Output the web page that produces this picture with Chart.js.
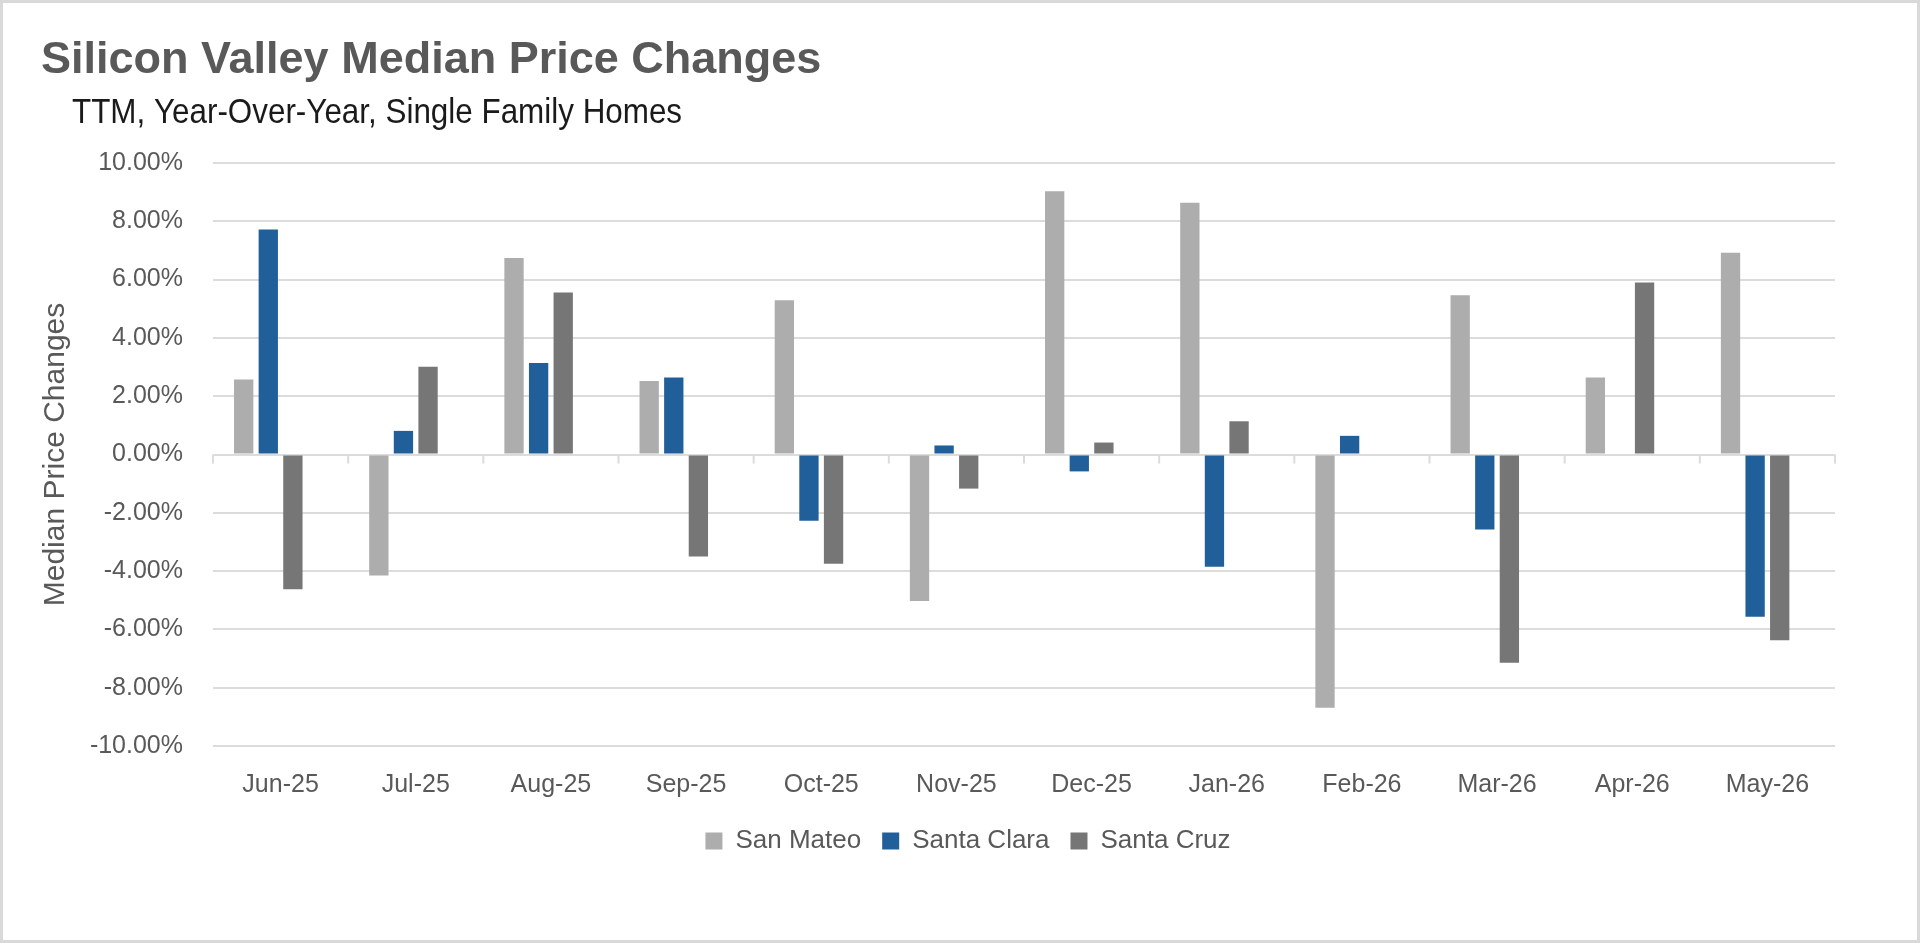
<!DOCTYPE html>
<html>
<head>
<meta charset="utf-8">
<title>Silicon Valley Median Price Changes</title>
<script src="https://cdn.jsdelivr.net/npm/chart.js@4.4.1/dist/chart.umd.min.js"></script>
<style>
  html, body { margin: 0; padding: 0; background: #ffffff; overflow: hidden; }
  #wrap { position: relative; width: 1920px; height: 943px; }
  #frame { position: absolute; left: 0; top: 0; width: 1920px; height: 943px; box-sizing: border-box; border: 3px solid #d9d9d9; pointer-events: none; }
  canvas { display: block; }
</style>
</head>
<body>
<div id="wrap">
  <canvas id="chart" width="1920" height="943"></canvas>
  <div id="frame"></div>
</div>
<script>
// ---- data ----
const titleText = 'Silicon Valley Median Price Changes';
const subtitleText = 'TTM, Year-Over-Year, Single Family Homes';
const yAxisTitle = 'Median Price Changes';
const categories = ['Jun-25', 'Jul-25', 'Aug-25', 'Sep-25', 'Oct-25', 'Nov-25', 'Dec-25', 'Jan-26', 'Feb-26', 'Mar-26', 'Apr-26', 'May-26'];
const seriesNames = ['San Mateo', 'Santa Clara', 'Santa Cruz'];
const sanMateo   = [2.57, -4.15, 6.74, 2.52, 5.29, -5.03, 9.03, 8.64, -8.69, 5.46, 2.64, 6.92];
const santaClara = [7.72, 0.81, 3.14, 2.64, -2.27, 0.31, -0.58, -3.85, 0.64, -2.57, null, -5.57];
const santaCruz  = [-4.62, 3.01, 5.56, -3.50, -3.75, -1.17, 0.41, 1.14, null, -7.14, 5.90, -6.37];
// empty fourth series slot present in the source chart (keeps clusters offset)
const emptySeries = [null, null, null, null, null, null, null, null, null, null, null, null];
const yTicks = [-10, -8, -6, -4, -2, 0, 2, 4, 6, 8, 10];

// ---- styles ----
const colors = ['#ADADAD', '#215F9A', '#767676'];
const gridColor = '#dcdcdc';
const textColor = '#595959';

const subtitlePlugin = {
  id: 'subtitleText',
  afterDraw(chart) {
    const ctx = chart.ctx;
    ctx.save();
    ctx.translate(72, 123);
    ctx.scale(0.897, 1);
    ctx.font = '35px "Liberation Sans", Arial, sans-serif';
    ctx.fillStyle = '#1a1a1a';
    ctx.textAlign = 'left';
    ctx.textBaseline = 'alphabetic';
    ctx.fillText(subtitleText, 0, 0);
    ctx.restore();
  }
};

const categoryTickPlugin = {
  id: 'categoryTicks',
  beforeDatasetsDraw(chart) {
    const xs = chart.scales.x, ys = chart.scales.y;
    const y0 = ys.getPixelForValue(0);
    const n = categories.length;
    const ctx = chart.ctx;
    ctx.save();
    ctx.strokeStyle = gridColor;
    ctx.lineWidth = 2;
    ctx.beginPath();
    for (let i = 0; i <= n; i++) {
      let x;
      if (i === 0) x = xs.left;
      else if (i === n) x = xs.right;
      else x = (xs.getPixelForValue(i - 1) + xs.getPixelForValue(i)) / 2;
      ctx.moveTo(x, y0);
      ctx.lineTo(x, y0 + 9);
    }
    ctx.stroke();
    ctx.restore();
  }
};

const datasets = seriesNames.map((name, i) => ({
  label: name,
  data: [sanMateo, santaClara, santaCruz][i],
  backgroundColor: colors[i],
  borderWidth: 0,
  categoryPercentage: 0.728,
  barPercentage: 0.785
}));
datasets.push({
  label: '',
  data: emptySeries,
  backgroundColor: 'rgba(0,0,0,0)',
  borderWidth: 0,
  categoryPercentage: 0.728,
  barPercentage: 0.785
});

new Chart(document.getElementById('chart'), {
  type: 'bar',
  data: { labels: categories, datasets },
  options: {
    responsive: false,
    animation: false,
    devicePixelRatio: 1,
    layout: { padding: { left: 41, right: 25, top: 34, bottom: 79 } },
    plugins: {
      title: {
        display: true,
        text: titleText,
        align: 'start',
        color: textColor,
        font: { family: '"Liberation Sans", Arial, sans-serif', weight: 'bold', size: 45, lineHeight: 1.2 },
        padding: { top: 0, bottom: 75 }
      },
      legend: {
        position: 'bottom',
        align: 'center',
        labels: {
          filter: (item) => item.text !== '',
          color: textColor,
          boxWidth: 17,
          boxHeight: 17,
          padding: 21,
          font: { family: '"Liberation Sans", Arial, sans-serif', size: 26 }
        }
      },
      tooltip: { enabled: false }
    },
    scales: {
      x: {
        afterFit(scale) { scale.height = 61; },
        grid: { display: false, drawTicks: false },
        border: { display: false },
        ticks: {
          color: textColor,
          padding: 24,
          maxRotation: 0,
          font: { family: '"Liberation Sans", Arial, sans-serif', size: 25, lineHeight: 1.2 }
        }
      },
      y: {
        min: -10,
        max: 10,
        afterBuildTicks(scale) { scale.ticks = yTicks.map(v => ({ value: v })); },
        afterFit(scale) { scale.width = 172; },
        grid: { color: gridColor, lineWidth: 2, drawTicks: false },
        border: { display: false },
        ticks: {
          color: textColor,
          padding: 30,
          font: { family: '"Liberation Sans", Arial, sans-serif', size: 25 },
          callback: (v) => Number(v).toFixed(2) + '%'
        },
        title: {
          display: true,
          text: yAxisTitle,
          color: textColor,
          padding: { top: 0, bottom: 0 },
          font: { family: '"Liberation Sans", Arial, sans-serif', size: 30, lineHeight: 1.0 }
        }
      },
      y2: {
        position: 'right',
        display: true,
        grid: { display: false, drawTicks: false },
        border: { display: false },
        ticks: { display: false },
        afterFit(scale) { scale.width = 60; }
      }
    }
  },
  plugins: [subtitlePlugin, categoryTickPlugin]
});
</script>
</body>
</html>
